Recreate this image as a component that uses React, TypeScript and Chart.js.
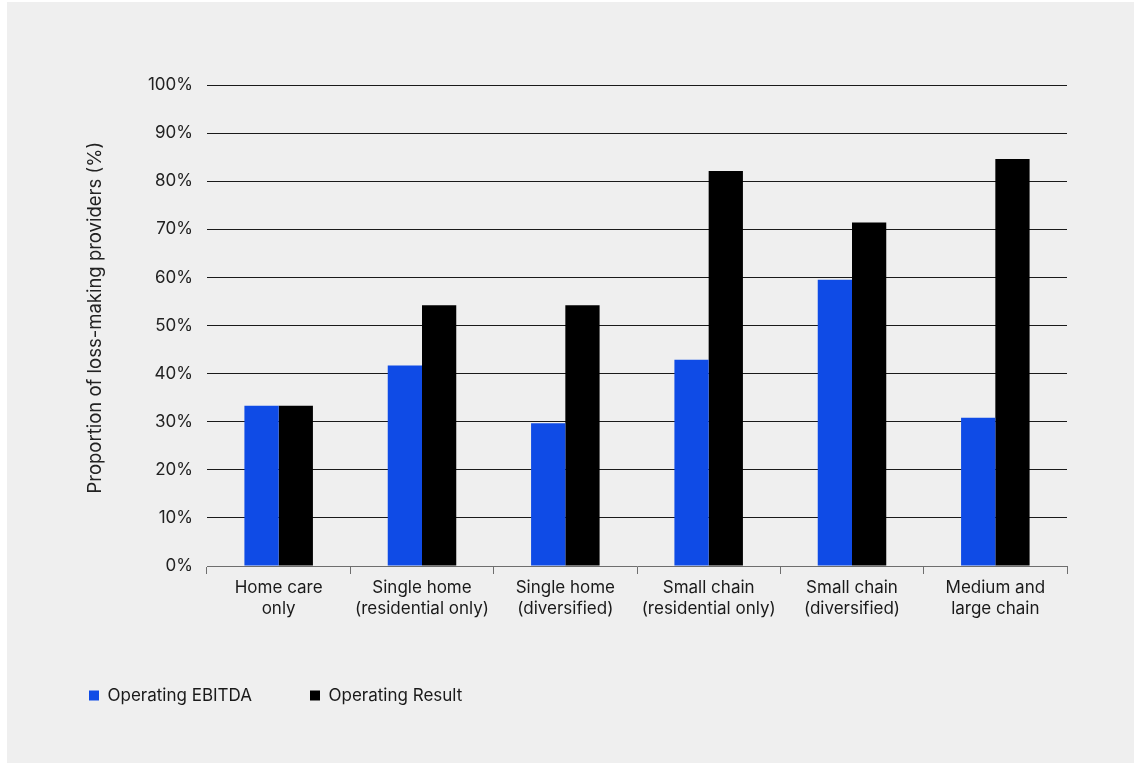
import React, { useEffect, useRef } from "react";
import { Chart, registerables } from "chart.js";

Chart.register(...registerables);

const categories: string[][] = [
  ["Home care", "only"],
  ["Single home", "(residential only)"],
  ["Single home", "(diversified)"],
  ["Small chain", "(residential only)"],
  ["Small chain", "(diversified)"],
  ["Medium and", "large chain"],
];
const seriesNames = ["Operating EBITDA", "Operating Result"];
const ebitdaValues = [33.3, 41.7, 29.7, 42.9, 59.5, 30.8];
const resultValues = [33.3, 54.2, 54.2, 82.1, 71.4, 84.6];
const yMin = 0;
const yMax = 100;
const yStep = 10;
const yTitle = "Proportion of loss-making providers (%)";

const BLUE = "#0F4BE6";
const BLACK = "#000000";
const FONT = "Inter, 'Liberation Sans', Arial, sans-serif";

export default function App() {
  const ref = useRef<HTMLCanvasElement | null>(null);

  useEffect(() => {
    if (!ref.current) return;
    const chart = new Chart(ref.current, {
      type: "bar",
      data: {
        labels: categories,
        datasets: [
          {
            label: seriesNames[0],
            data: ebitdaValues,
            backgroundColor: BLUE,
            borderWidth: 0,
            barPercentage: 1,
            categoryPercentage: 0.478,
          },
          {
            label: seriesNames[1],
            data: resultValues,
            backgroundColor: BLACK,
            borderWidth: 0,
            barPercentage: 1,
            categoryPercentage: 0.478,
          },
        ],
      },
      options: {
        responsive: false,
        animation: false,
        layout: { padding: { left: 24, right: 67, top: 83, bottom: 49 } },
        font: { family: FONT },
        plugins: {
          tooltip: { enabled: false },
          legend: {
            position: "bottom",
            align: "start",
            labels: {
              boxWidth: 10,
              boxHeight: 10,
              padding: 58,
              color: "#1a1a1a",
              font: { family: FONT, size: 17 },
            },
          },
        },
        scales: {
          x: {
            grid: {
              display: true,
              drawOnChartArea: false,
              drawTicks: true,
              tickLength: 8,
              color: "#6e6e6e",
              offset: true,
            },
            border: { display: true, color: "#6e6e6e", width: 1 },
            ticks: {
              color: "#1a1a1a",
              padding: 3,
              maxRotation: 0,
              autoSkip: false,
              font: { family: FONT, size: 17, lineHeight: 1.25 },
            },
            afterFit: (scale: any) => {
              scale.height = 63;
            },
          },
          y: {
            min: yMin,
            max: yMax,
            grid: {
              drawTicks: false,
              color: (ctx: any) => (ctx.tick && ctx.tick.value === 0 ? "rgba(0,0,0,0)" : "#1a1a1a"),
              lineWidth: 1,
            },
            border: { display: false },
            ticks: {
              stepSize: yStep,
              padding: 14,
              color: "#222222",
              font: { family: FONT, size: 17 },
              callback: (v: any) => v + "%",
            },
            title: {
              display: true,
              text: "   " + yTitle,
              color: "#222222",
              font: { family: FONT, size: 18.5 },
              padding: { top: 53, bottom: 0 },
            },
            afterFit: (scale: any) => {
              scale.width = 176;
            },
          },
        },
      },
    });
    return () => chart.destroy();
  }, []);

  return (
    <div
      style={{
        position: "fixed",
        left: 7,
        top: 2,
        width: 1127,
        height: 761,
        background: "#efefef",
      }}
    >
      <canvas ref={ref} width={1127} height={761} style={{ display: "block", width: 1127, height: 761 }} />
    </div>
  );
}
